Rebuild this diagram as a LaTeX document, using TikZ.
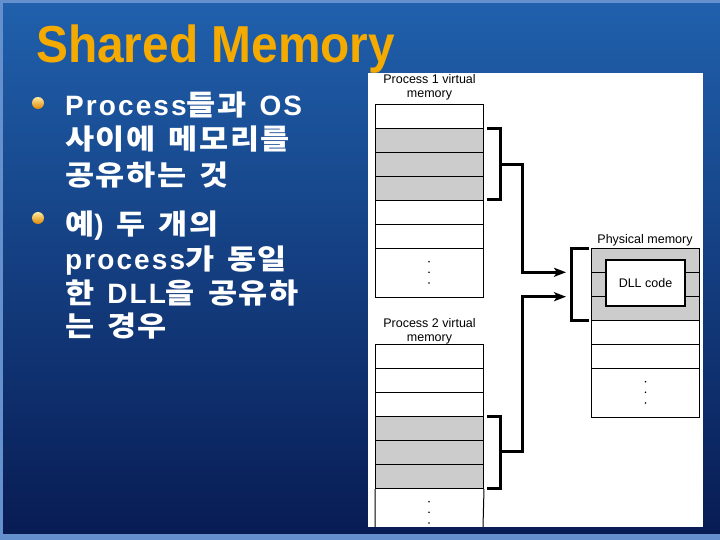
\documentclass[tikz,border=0pt]{standalone}
\usepackage{fontspec}
\setmainfont{Liberation Sans}
\newfontfamily\bodyfont{Liberation Sans}[LetterSpace=7.5]
\newfontfamily\kr{Noto Sans CJK KR}[LetterSpace=5]
\newcommand\K[1]{\scalebox{1.13}[1]{\kr #1}}
\newcommand\kg{\hspace{13pt}}
\usetikzlibrary{arrows.meta}
\definecolor{titleorange}{RGB}{245,170,0}
\definecolor{bgtop}{RGB}{32,96,172}
\definecolor{bgmid}{RGB}{16,58,128}
\definecolor{bgbot}{RGB}{8,28,84}
\definecolor{bgedge}{RGB}{100,145,205}
\definecolor{cellgray}{RGB}{204,204,204}
\tikzset{
  cell/.style={draw=black, line width=1pt, fill=white, minimum width=108pt, minimum height=24pt, inner sep=0pt, anchor=north west},
  grey/.style={fill=cellgray},
  lbl/.style={font=\fontsize{12.5}{14}\selectfont, anchor=base, inner sep=0pt},
  body/.style={font=\fontsize{28}{30}\selectfont\bodyfont\bfseries, text=white, anchor=base west, inner sep=0pt},
  brk/.style={line width=3pt, line cap=rect},
  conn/.style={line width=3pt, -{Stealth[length=12pt,width=9pt,inset=3pt]}},
  dot/.style={fill=black},
  bullet/.style={top color={rgb,255:red,255;green,235;blue,160}, bottom color={rgb,255:red,225;green,135;blue,0}}
}
\begin{document}
\begin{tikzpicture}[x=1pt,y=-1pt]
\useasboundingbox (0,0) rectangle (720,540);
% background
\fill[bgedge] (0,0) rectangle (720,540);
\shade[top color=bgtop, middle color=bgmid, bottom color=bgbot] (3,4) rectangle (720,533);
% white panel
\fill[white] (368,73) rectangle (703,527);
% Process 1 virtual memory
\node[lbl] (p1a) at (429.5,84) {Process 1 virtual};
\node[lbl] (p1b) at (429.5,98) {memory};
\node[cell] (p1r1) at (375,104) {};
\node[cell,grey] (p1r2) at (375,128) {};
\node[cell,grey] (p1r3) at (375,152) {};
\node[cell,grey] (p1r4) at (375,176) {};
\node[cell] (p1r5) at (375,200) {};
\node[cell] (p1r6) at (375,224) {};
\node[cell, minimum height=48.5pt] (p1r7) at (375,248) {};
\fill[dot] (429,261.7) circle (0.9) (429,272.3) circle (0.9) (429,283) circle (0.9);
% Process 2 virtual memory
\node[lbl] (p2a) at (429.5,327) {Process 2 virtual};
\node[lbl] (p2b) at (429.5,341) {memory};
\node[cell] (p2r1) at (375,344) {};
\node[cell] (p2r2) at (375,368) {};
\node[cell] (p2r3) at (375,392) {};
\node[cell,grey] (p2r4) at (375,416) {};
\node[cell,grey] (p2r5) at (375,440) {};
\node[cell,grey] (p2r6) at (375,464) {};
\draw[line width=1pt] (p2r6.south west) -- (375,527) (p2r6.south east) -- (483,527);
\fill[dot] (429,501.7) circle (0.9) (429,512.3) circle (0.9) (429,523) circle (0.9);
% Physical memory
\node[lbl] (pma) at (645,243.3) {Physical memory};
\node[cell,grey] (pm1) at (591,248) {};
\node[cell,grey] (pm2) at (591,272) {};
\node[cell,grey] (pm3) at (591,296) {};
\node[cell] (pm4) at (591,320) {};
\node[cell] (pm5) at (591,344) {};
\node[cell, minimum height=48.5pt] (pm6) at (591,368) {};
\fill[dot] (645.5,381.7) circle (0.9) (645.5,392.3) circle (0.9) (645.5,403) circle (0.9);
\node[draw=black, line width=2pt, fill=white, minimum width=79pt, minimum height=46pt, inner sep=0pt,
      font=\fontsize{12.5}{14}\selectfont] (dll) at (645.5,283.3) {DLL code};
% brackets and connectors
\coordinate (b1t) at (488,128.3);
\coordinate (b1b) at (488,200);
\coordinate (b1m) at (500.5,165);
\coordinate (b1k) at (522,165);
\coordinate (b1d) at (522,272.3);
\coordinate (a1) at (566,272.3);
\draw[brk] (b1t) -- (500.5,128.3) -- (500.5,200) -- (b1b);
\draw[brk] (b1m) -- (b1k) -- (b1d);
\draw[conn] (b1d) -- (a1);
\coordinate (b2t) at (488,416.3);
\coordinate (b2b) at (488,488.3);
\coordinate (b2m) at (500.5,451.7);
\coordinate (b2k) at (522,451.7);
\coordinate (b2u) at (522,296.7);
\coordinate (a2) at (566,296.7);
\draw[brk] (b2t) -- (500.5,416.3) -- (500.5,488.3) -- (b2b);
\draw[brk] (b2m) -- (b2k) -- (b2u);
\draw[conn] (b2u) -- (a2);
\draw[brk] (587.5,248.3) -- (571,248.3) -- (571,320) -- (587.5,320);
% title
\node[anchor=base west, inner sep=0pt, text=titleorange, font=\fontsize{52}{52}\selectfont\bfseries] (title) at (36,63) {\scalebox{0.92}[1]{Shared Memory}};
% bullets
\shade[bullet] (38,103) circle (6);
\shade[bullet] (38,218) circle (6);
% body text
\node[body] (l1) at (65,116) {Process\K{들과}\kg OS};
\node[body] (l2) at (65,150) {\K{사이에}\kg\K{메모리를}};
\node[body] (l3) at (65,186) {\K{공유하는}\kg\K{것}};
\node[body] (l4) at (65,234) {\K{예})\kg\K{두}\kg\K{개의}};
\node[body] (l5) at (65,269) {process\K{가}\kg\K{동일}};
\node[body] (l6) at (65,303) {\K{한}\kg DLL\K{을}\kg\K{공유하}};
\node[body] (l7) at (65,336) {\K{는}\kg\K{경우}};
\end{tikzpicture}
\end{document}
